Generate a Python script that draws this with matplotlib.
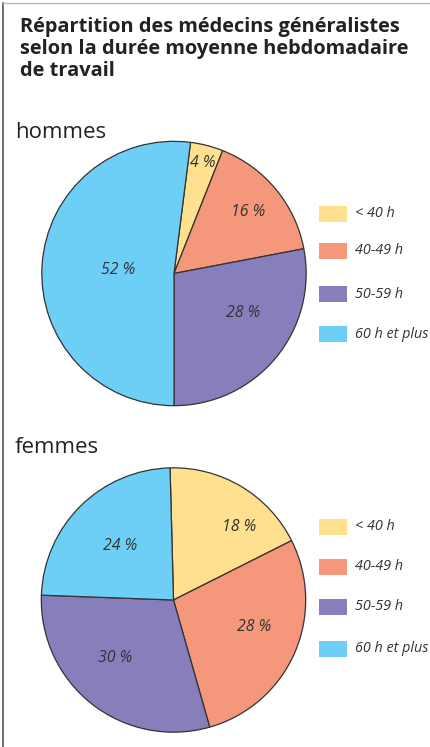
import matplotlib

matplotlib.use("Agg")
import matplotlib.pyplot as plt
from matplotlib.lines import Line2D
from matplotlib.patches import Rectangle
import numpy as np

# Data
categories = ["< 40 h", "40-49 h", "50-59 h", "60 h et plus"]
hommes = [4, 16, 28, 52]
femmes = [18, 28, 30, 24]
colors = ["#FFE08F", "#F5977A", "#867FBC", "#6DCFF6"]
title = "Répartition des médecins généralistes\nselon la durée moyenne hebdomadaire\nde travail"

W, H = 431, 747
plt.rcParams["font.family"] = ["Open Sans", "DejaVu Sans"]
fig = plt.figure(figsize=(W / 100, H / 100), dpi=100)
fig.patch.set_facecolor("white")

TXT = "#333333"


def px_axes(cx, cy, r):
    return fig.add_axes([(cx - r) / W, 1 - (cy + r) / H, 2 * r / W, 2 * r / H])


def draw_pie(name, values, cx, cy, r, start, label_r, label_shift, legend_y, heading_y):
    ax = px_axes(cx, cy, r)
    wedges, _ = ax.pie(
        values,
        colors=colors,
        startangle=start,
        counterclock=False,
        wedgeprops=dict(edgecolor="#333333", linewidth=0.9),
    )
    ax.set_xlim(-1.01, 1.01)
    ax.set_ylim(-1.01, 1.01)
    ax.set_aspect("equal")
    ax.axis("off")
    # percentage labels inside slices
    for w, v, lr, sh in zip(wedges, values, label_r, label_shift):
        mid = np.deg2rad((w.theta1 + w.theta2) / 2 - sh)
        ax.text(lr * np.cos(mid), lr * np.sin(mid), f"{v} %", ha="center", va="center",
                fontsize=11.4, style="italic", color=TXT)
    # heading
    fig.text(15 / W, 1 - heading_y / H, name, fontsize=16, color="#222222", va="baseline")
    # legend
    for y, cat, col in zip(legend_y, categories, colors):
        fig.add_artist(Rectangle((319 / W, 1 - (y + 8) / H), 28 / W, 16 / H,
                                 transform=fig.transFigure, facecolor=col, edgecolor="none"))
        fig.text(355 / W, 1 - y / H, cat, fontsize=10.4, style="italic", color=TXT, va="center")


draw_pie("hommes", hommes, 174, 273.5, 133.5, 82.8,
         [0.86, 0.73, 0.60, 0.42], [0, 0, -10, 0],
         [213.7, 251, 294, 334], 138)
draw_pie("femmes", femmes, 173.5, 600, 133.5, 91.5,
         [0.74, 0.64, 0.62, 0.57], [11, -5, 7, 0],
         [527, 567, 607, 649], 453)

fig.text(20 / W, 1 - 17 / H, title, fontsize=14.4, fontweight="bold", color="#222222",
         va="top", linespacing=1.12)

# frame lines
fig.add_artist(Line2D([3.5 / W, 3.5 / W], [0, 1 - 3 / H], transform=fig.transFigure,
                      color="#555555", linewidth=1.2))
fig.add_artist(Line2D([3.5 / W, 1], [1 - 3 / H, 1 - 3 / H], transform=fig.transFigure,
                      color="#bbbbbb", linewidth=1.0))

fig.savefig("out.png", dpi=100, facecolor="white")
